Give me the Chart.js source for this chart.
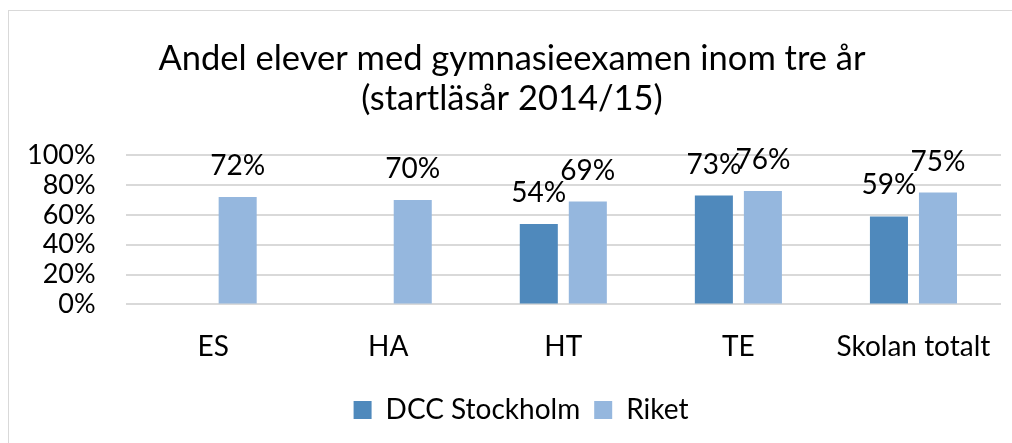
<!DOCTYPE html>
<html>
<head>
<meta charset="utf-8">
<script src="https://cdn.jsdelivr.net/npm/chart.js@4.4.0/dist/chart.umd.min.js"></script>
<style>
  html, body { margin: 0; padding: 0; background: #fff; }
  #wrap { position: absolute; left: 8px; top: 10px; width: 1004px; height: 433px; border: 1px solid #d9d9d9; border-right: none; border-bottom: none; box-sizing: border-box; }
  #c { position: absolute; left: -8px; top: -10px; }
</style>
</head>
<body>
<div id="wrap"><canvas id="c" width="1012" height="443"></canvas></div>
<script>
// Data
const categories = ['ES', 'HA', 'HT', 'TE', 'Skolan totalt'];
const dccValues = [null, null, 54, 73, 59];
const riketValues = [72, 70, 69, 76, 75];
const yTicks = [0, 20, 40, 60, 80, 100];
const seriesNames = ['DCC Stockholm', 'Riket'];
const titleLines = ['Andel elever med gymnasieexamen inom tre år', '(startläsår 2014/15)'];

const FONT = 'Lato, Carlito, Calibri, sans-serif';

// draw the value above each bar
const valueLabels = {
    id: 'valueLabels',
    afterLayout(chart) {
        // title and legend sit a bit right of the canvas centre in the original
        if (chart.titleBlock) chart.titleBlock.left += 26;
        if (chart.legend) chart.legend.left += 44;
    },
    afterDatasetsDraw(chart) {
        const ctx = chart.ctx;
        ctx.save();
        ctx.font = '28px ' + FONT;
        ctx.fillStyle = '#000';
        ctx.textAlign = 'center';
        ctx.textBaseline = 'middle';
        chart.data.datasets.forEach((ds, i) => {
            chart.getDatasetMeta(i).data.forEach((bar, j) => {
                const v = ds.data[j];
                if (v == null) return;
                ctx.fillText(v + '%', bar.x, bar.y - 31);
            });
        });
        ctx.restore();
    }
};

new Chart(document.getElementById('c'), {
    type: 'bar',
    data: {
        labels: categories,
        datasets: [
            { label: seriesNames[0], data: dccValues, backgroundColor: '#4F89BC' },
            { label: seriesNames[1], data: riketValues, backgroundColor: '#95B7DE' }
        ]
    },
    options: {
        responsive: false,
        animation: false,
        devicePixelRatio: 1,
        layout: { padding: { left: -4, right: 12, top: 38, bottom: 10 } },
        datasets: { bar: { categoryPercentage: 0.56, barPercentage: 0.776 } },
        scales: {
            x: {
                grid: { display: false },
                border: { display: false },
                ticks: { color: '#000', font: { family: FONT, size: 28 }, padding: 18 }
            },
            y: {
                min: 0, max: 100,
                afterBuildTicks(axis) { axis.ticks = yTicks.map(v => ({ value: v })); },
                grid: { color: '#d9d9d9', lineWidth: 2, drawTicks: false },
                border: { display: false },
                ticks: { color: '#000', font: { family: FONT, size: 27, lineHeight: 1 }, padding: 30, autoSkip: false, callback: v => v + '%' }
            }
        },
        plugins: {
            title: {
                display: true,
                text: titleLines,
                color: '#000',
                font: { family: FONT, size: 34.5, weight: 'normal', lineHeight: 1.15 },
                padding: { top: 0, bottom: 37 }
            },
            legend: {
                position: 'bottom',
                labels: { color: '#000', font: { family: FONT, size: 28 }, boxWidth: 18, boxHeight: 18, padding: 14 }
            },
            tooltip: { enabled: false }
        }
    },
    plugins: [valueLabels]
});
</script>
</body>
</html>
